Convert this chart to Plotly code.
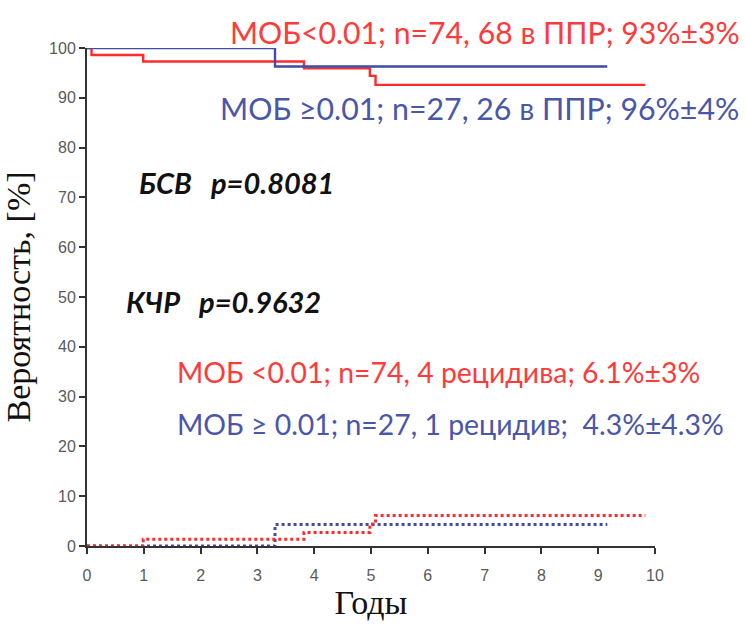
import plotly.graph_objects as go

# Event-free survival (top curves), step functions
efs_low_t = [0, 0.08, 0.99, 3.82, 4.98, 5.08, 9.83]
efs_low_v = [100, 98.6, 97.3, 95.9, 94.4, 92.6, 92.6]
efs_high_t = [0, 3.31, 9.16]
efs_high_v = [100, 96.3, 96.3]

# Cumulative incidence of relapse (bottom curves)
cir_low_t = [0, 0.99, 3.82, 4.98, 5.08, 9.83]
cir_low_v = [0, 1.35, 2.7, 4.4, 6.1, 6.1]
cir_high_t = [0, 3.31, 9.16]
cir_high_v = [0, 4.3, 4.3]

RED = "#ff2b2b"
BLUE = "#3f4ea3"
RED_T = "#ff3a3a"
BLUE_T = "#4a56a8"

x_ticks = list(range(0, 11))
y_ticks = list(range(0, 101, 10))

fig = go.Figure()
fig.add_trace(go.Scatter(x=cir_high_t, y=cir_high_v, mode="lines", line_shape="hv",
                         line=dict(color=BLUE, width=3, dash="dot"), cliponaxis=False))
fig.add_trace(go.Scatter(x=cir_low_t, y=cir_low_v, mode="lines", line_shape="hv",
                         line=dict(color=RED, width=3, dash="dot"), cliponaxis=False))
fig.add_trace(go.Scatter(x=efs_low_t, y=efs_low_v, mode="lines", line_shape="hv",
                         line=dict(color=RED, width=2.4), cliponaxis=False))
fig.add_trace(go.Scatter(x=efs_high_t, y=efs_high_v, mode="lines", line_shape="hv",
                         line=dict(color=BLUE, width=2.4), cliponaxis=False))

lab_font = "Lato, Noto Sans, sans-serif"
annots = [
    dict(x=2.48, y=1.032, yref="paper", text="МОБ&lt;0.01; n=74, 68 в ППР; 93%±3%", color=RED_T, size=30.2, bi=False),
    dict(x=2.31, y=0.88, yref="paper", text="МОБ ≥0.01; n=27, 26 в ППР; 96%±4%", color=BLUE_T, size=30.3, bi=False),
    dict(x=0.88, y=0.729, yref="paper", text="БСВ   p=0.8081", color="#111111", size=29, bi=True),
    dict(x=0.65, y=0.49, yref="paper", text="КЧР   p=0.9632", color="#111111", size=29, bi=True),
    dict(x=1.55, y=0.349, yref="paper", text="МОБ &lt;0.01; n=74, 4 рецидива; 6.1%±3%", color=RED_T, size=28.4, bi=False),
    dict(x=1.55, y=0.245, yref="paper", text="МОБ ≥ 0.01; n=27, 1 рецидив;  4.3%±4.3%", color=BLUE_T, size=28.4, bi=False),
]
for a in annots:
    txt = f"<b><i>{a['text']}</i></b>" if a["bi"] else a["text"]
    fig.add_annotation(x=a["x"], y=a["y"], xref="x", yref=a["yref"], text=txt, showarrow=False,
                       xanchor="left", yanchor="middle",
                       font=dict(family=lab_font, size=a["size"], color=a["color"]))

tick_font = dict(family="Liberation Sans Narrow, Liberation Sans, sans-serif", size=16, color="#5a5a5a")
title_font = dict(family="Liberation Serif, serif", size=34, color="#111")

fig.update_layout(
    width=745, height=625,
    margin=dict(l=87, r=90, t=48, b=79),
    plot_bgcolor="white", paper_bgcolor="white",
    showlegend=False,
    xaxis=dict(range=[0, 10], tickvals=x_ticks, ticks="outside", ticklen=6, tickwidth=1.5,
               tickcolor="#333", showline=True, linecolor="#333", linewidth=2,
               showgrid=False, zeroline=False, tickfont=tick_font, ticklabelstandoff=8,
               title=dict(text="Годы", font=title_font, standoff=6)),
    yaxis=dict(range=[0, 100], tickvals=y_ticks, ticks="outside", ticklen=6, tickwidth=1.5,
               tickcolor="#333", showline=True, linecolor="#333", linewidth=2,
               showgrid=False, zeroline=False, tickfont=tick_font,
               title=dict(text="Вероятность, [%]", font=title_font, standoff=8)),
)

fig.write_html("out.html")
